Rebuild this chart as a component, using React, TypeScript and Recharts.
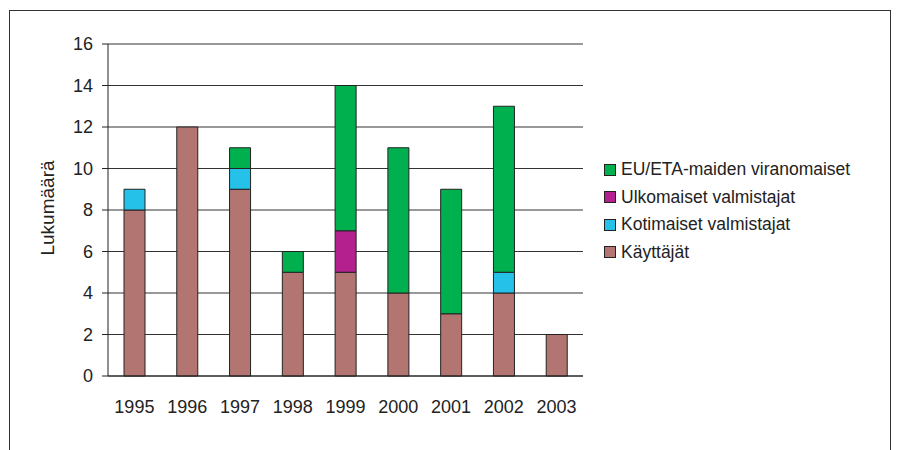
import { BarChart, Bar, XAxis, YAxis, CartesianGrid, ReferenceLine } from 'recharts';

// Lukumäärät vuosittain (1995–2003)
const years = ['1995', '1996', '1997', '1998', '1999', '2000', '2001', '2002', '2003'];
const kayttajat = [8, 12, 9, 5, 5, 4, 3, 4, 2];
const kotimaiset = [1, 0, 1, 0, 0, 0, 0, 1, 0];
const ulkomaiset = [0, 0, 0, 0, 2, 0, 0, 0, 0];
const euEta = [0, 0, 1, 1, 7, 7, 6, 8, 0];
const yTicks = [0, 2, 4, 6, 8, 10, 12, 14, 16];
const edgeTicks = [0, 1, 2, 3, 4, 5, 6, 7, 8, 9];

const data = years.map((year, i) => ({
  year,
  kayttajat: kayttajat[i],
  kotimaiset: kotimaiset[i],
  ulkomaiset: ulkomaiset[i],
  euEta: euEta[i],
}));

// pinon järjestys alhaalta ylös
const SERIES = [
  { key: 'kayttajat', name: 'Käyttäjät', color: '#B27571' },
  { key: 'kotimaiset', name: 'Kotimaiset valmistajat', color: '#25C1E8' },
  { key: 'ulkomaiset', name: 'Ulkomaiset valmistajat', color: '#B4218F' },
  { key: 'euEta', name: 'EU/ETA-maiden viranomaiset', color: '#00B04F' },
];

const FONT = 'Arial, "Liberation Sans", sans-serif';
const INK = '#222';

function ChartLegend() {
  return (
    <div style={{ position: 'absolute', left: 604, top: 156, fontFamily: FONT, fontSize: 17.5, color: INK }}>
      {[...SERIES].reverse().map((s) => (
        <div key={s.key} style={{ display: 'flex', alignItems: 'center', height: 27.5, whiteSpace: 'nowrap' }}>
          <span
            style={{
              display: 'inline-block',
              width: 10,
              height: 10,
              background: s.color,
              border: `1px solid ${INK}`,
              marginRight: 5,
            }}
          />
          {s.name}
        </div>
      ))}
    </div>
  );
}

function YLabel({ viewBox }: any) {
  const cx = viewBox.x - 1;
  const cy = viewBox.y + viewBox.height / 2 - 2;
  return (
    <text
      x={cx}
      y={cy}
      transform={`rotate(-90 ${cx} ${cy})`}
      textAnchor="middle"
      dominantBaseline="central"
      fontFamily={FONT}
      fontSize={19}
      fill={INK}
    >
      Lukumäärä
    </text>
  );
}

export default function App() {
  return (
    <div style={{ position: 'fixed', left: 0, top: 0, width: 897, height: 450, overflow: 'hidden', background: '#fff' }}>
      <div
        style={{
          position: 'absolute',
          left: 9,
          top: 10,
          width: 882,
          height: 470,
          border: '1.5px solid #333',
          boxSizing: 'border-box',
        }}
      />
      <div style={{ position: 'absolute', left: 0, top: 0 }}>
        <BarChart
          width={897}
          height={450}
          data={data}
          margin={{ top: 44, right: 314, left: 48, bottom: 28 }}
          barSize={21}
        >
          <CartesianGrid xAxisId="z" vertical={false} stroke="#333" strokeWidth={1} />
          <XAxis
            xAxisId="a"
            type="number"
            domain={[0, 9]}
            ticks={edgeTicks}
            height={6}
            tick={false}
            tickSize={6}
            axisLine={{ stroke: INK }}
            tickLine={{ stroke: INK }}
          />
          <XAxis
            xAxisId="z"
            dataKey="year"
            height={40}
            axisLine={false}
            tickLine={false}
            tickSize={0}
            tickMargin={18}
            tick={{ fontFamily: FONT, fontSize: 18, fill: INK }}
          />
          <YAxis
            domain={[0, 16]}
            ticks={yTicks}
            width={60}
            tickSize={6}
            tickMargin={9}
            axisLine={{ stroke: INK }}
            tickLine={{ stroke: INK }}
            tick={{ fontFamily: FONT, fontSize: 18, fill: INK }}
            label={<YLabel />}
          />
          <ReferenceLine xAxisId="a" x={9} stroke="#b0b0b0" strokeWidth={1.5} />
          {SERIES.map((s) => (
            <Bar
              key={s.key}
              xAxisId="z"
              dataKey={s.key}
              name={s.name}
              stackId="a"
              fill={s.color}
              stroke={INK}
              strokeWidth={1}
              isAnimationActive={false}
            />
          ))}
        </BarChart>
      </div>
      <ChartLegend />
    </div>
  );
}
